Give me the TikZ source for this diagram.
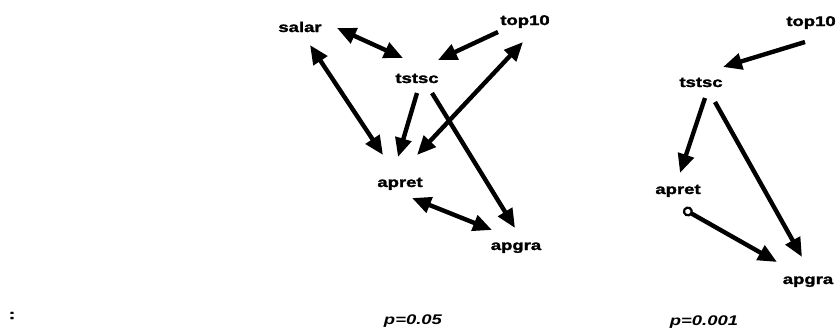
\documentclass[tikz,border=0pt]{standalone}
\usepackage{fontspec}
\setmainfont{Liberation Sans}
\newfontfamily\heavy{Liberation Sans}[BoldFeatures={FakeBold=1.6}]
\usetikzlibrary{arrows.meta,calc}
\newcommand{\wide}[1]{\scalebox{1.32}[1]{#1}}
\tikzset{
  lbl/.style={font=\fontsize{14}{16}\selectfont\heavy\bfseries, inner sep=0pt, anchor=base},
  plbl/.style={font=\fontsize{14}{16}\selectfont\heavy\bfseries\itshape, inner sep=0pt, anchor=base},
  edge/.style={line width=4.4pt},
  tipa/.style={-{Triangle[length=19pt,width=16pt]}},
  tipb/.style={{Triangle[length=19pt,width=16pt]}-{Triangle[length=19pt,width=16pt]}},
  tipo/.style={{Circle[open,length=10pt,width=10pt,line width=2.2pt]}-{Triangle[length=19pt,width=16pt]}}
}
\begin{document}
\begin{tikzpicture}[x=1pt,y=-1pt]
\useasboundingbox (0,0) rectangle (836,332);
% left graph
\node[lbl] (salar) at (300,32) {\wide{salar}};
\node[lbl] (topL) at (525,25) {\wide{top10}};
\node[lbl] (tstL) at (417,83) {\wide{tstsc}};
\node[lbl] (apretL) at (400,187) {\wide{apret}};
\node[lbl] (apgraL) at (516,250) {\wide{apgra}};
\node[plbl] (p1) at (413,324) {\wide{p=0.05}};
% right graph
\node[lbl] (topR) at (811,26) {\wide{top10}};
\node[lbl] (tstR) at (701,87) {\wide{tstsc}};
\node[lbl] (apretR) at (678,194) {\wide{apret}};
\node[lbl] (apgraR) at (808,284) {\wide{apgra}};
\node[plbl] (p2) at (704,325) {\wide{p=0.001}};
\node[lbl] (colon) at (12,319) {\wide{:}};
% left edges
\draw[edge,tipb] ($(salar.base)+(37,-4)$) -- ($(tstL.base)+(-14,-25)$);
\draw[edge,tipa] ($(topL.base)+(-27,7)$) -- ($(tstL.base)+(21,-23)$);
\draw[edge,tipb] ($(salar.base)+(10,13)$) -- ($(apretL.base)+(-17,-32)$);
\draw[edge,tipa] ($(tstL.base)+(0,10)$) -- ($(apretL.base)+(-2,-30)$);
\draw[edge,tipb] ($(topL.base)+(-2,17)$) -- ($(apretL.base)+(17,-32)$);
\draw[edge,tipa] ($(tstL.base)+(15,10)$) -- ($(apgraL.base)+(-1,-22)$);
\draw[edge,tipb] ($(apretL.base)+(12,11)$) -- ($(apgraL.base)+(-24,-20)$);
% right edges
\draw[edge,tipa] ($(topR.base)+(-6,16)$) -- ($(tstR.base)+(22,-20)$);
\draw[edge,tipa] ($(tstR.base)+(4,11)$) -- ($(apretR.base)+(2,-21)$);
\draw[edge,tipa] ($(tstR.base)+(14,15)$) -- ($(apgraR.base)+(-6,-27)$);
\draw[edge,tipo] ($(apretR.base)+(5.5,15)$) -- ($(apgraR.base)+(-31,-22)$);
\end{tikzpicture}
\end{document}
